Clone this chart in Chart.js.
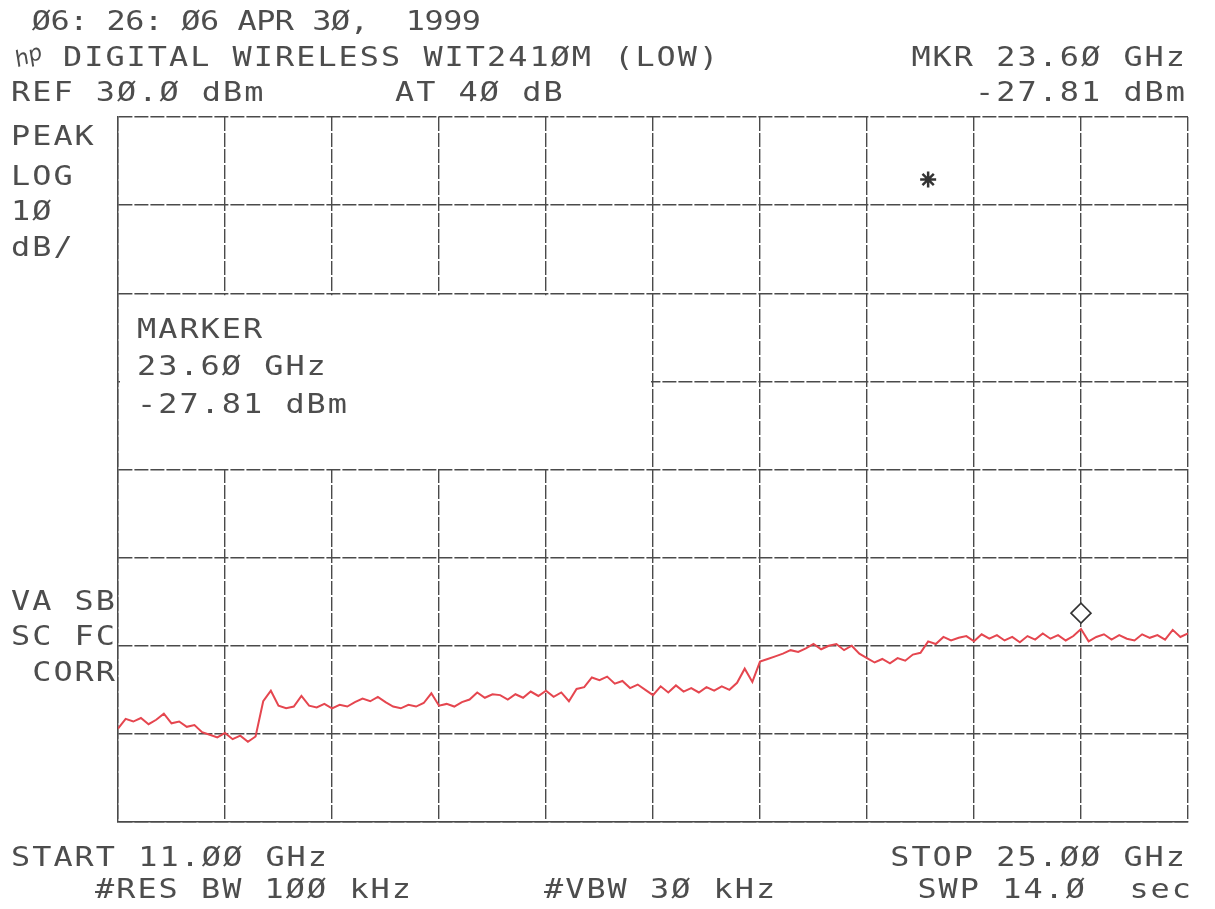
<!DOCTYPE html>
<html>
<head>
<meta charset="utf-8">
<script src="https://cdn.jsdelivr.net/npm/chart.js@4"></script>
<style>
  html, body { margin: 0; padding: 0; background: #fff; }
  #wrap { width: 1215px; height: 909px; }
</style>
</head>
<body>
<div id="wrap"><canvas id="chart" width="1215" height="909"></canvas></div>
<script>
// sweep 11.00 -> 25.00 GHz, one reading every 0.1 GHz (dBm)
const sweepStart = 11.0;
const sweepStep = 0.1;
const traceLevels = [
    -39.4, -38.3, -38.6, -38.2, -38.9, -38.4, -37.7, -38.8, -38.6, -39.2,
    -39.0, -39.8, -40.1, -40.4, -39.9, -40.6, -40.2, -40.9, -40.3, -36.3,
    -35.1, -36.8, -37.1, -36.9, -35.7, -36.8, -37.0, -36.6, -37.1, -36.7,
    -36.9, -36.4, -36.0, -36.3, -35.8, -36.4, -36.9, -37.1, -36.7, -36.9,
    -36.5, -35.4, -36.8, -36.6, -36.9, -36.4, -36.1, -35.3, -35.9, -35.5,
    -35.6, -36.1, -35.5, -35.9, -35.2, -35.7, -35.1, -35.8, -35.3, -36.3,
    -34.9, -34.7, -33.6, -33.9, -33.5, -34.3, -34.0, -34.8, -34.4, -35.0,
    -35.6, -34.6, -35.3, -34.5, -35.2, -34.8, -35.3, -34.7, -35.1, -34.6,
    -35.0, -34.2, -32.6, -34.1, -31.8, -31.5, -31.2, -30.9, -30.5, -30.7,
    -30.3, -29.8, -30.4, -30.0, -29.8, -30.5, -30.0, -30.9, -31.4, -31.9,
    -31.5, -32.0, -31.4, -31.7, -31.0, -30.8, -29.5, -29.8, -29.0, -29.4,
    -29.1, -28.9, -29.5, -28.7, -29.2, -28.8, -29.4, -29.0, -29.6, -28.9,
    -29.3, -28.6, -29.2, -28.8, -29.4, -28.9, -28.1, -29.5, -29.0, -28.7,
    -29.3, -28.8, -29.2, -29.4, -28.7, -29.1, -28.8, -29.3, -28.2, -29.0,
    -28.6
];

// grid divisions: 1.4 GHz / div, 10 dB / div from REF 30 dBm
const xGridTicks = [11, 12.4, 13.8, 15.2, 16.6, 18, 19.4, 20.8, 22.2, 23.6, 25];
const yGridTicks = [30, 20, 10, 0, -10, -20, -30, -40, -50];

// marker diamond and the '*' symbol
const markerPoint = [{ x: 23.6, y: -26.3 }];
const starPoint = [{ x: 21.6, y: 22.9 }];

// readout box covers 11..18 GHz, +10..-10 dBm
const boxFreq = [11, 18];
const boxLevel = [10, -10];

const INK = '#4d4d4d';
const PITCH = 21.2;

// plotter style: fixed pitch, slightly stretched glyphs
function drawMono(ctx, text, x, y, align, pitch) {
    const p = pitch || PITCH;
    let start = x;
    if (align === 'right') start = x - text.length * p;
    for (let i = 0; i < text.length; i++) {
        ctx.save();
        ctx.translate(start + (i + 0.5) * p, y);
        ctx.scale(1.18, 1);
        ctx.fillText(text[i], 0, 0);
        ctx.restore();
    }
}

const readoutPlugin = {
    id: 'readout',
    beforeDatasetsDraw(chart) {
        const ctx = chart.ctx;
        const xs = chart.scales.x, ys = chart.scales.y;
        const l = xs.getPixelForValue(boxFreq[0]), r = xs.getPixelForValue(boxFreq[1]);
        const t = ys.getPixelForValue(boxLevel[0]), b = ys.getPixelForValue(boxLevel[1]);
        ctx.save();
        ctx.fillStyle = '#fff';
        ctx.fillRect(l + 2, t + 2, r - l - 4, b - t - 4);
        ctx.restore();
    },
    afterDraw(chart) {
        const ctx = chart.ctx;
        ctx.save();
        ctx.fillStyle = INK;
        ctx.font = '27px "DejaVu Sans Mono"';
        ctx.textAlign = 'center';
        ctx.textBaseline = 'alphabetic';

        drawMono(ctx, 'Ø6: 26: Ø6 APR 3Ø,  1999', 32, 30, 'left', 18.7);
        drawMono(ctx, 'DIGITAL WIRELESS WIT241ØM (LOW)', 62, 66);
        drawMono(ctx, 'MKR 23.6Ø GHz', 1186, 66, 'right');
        drawMono(ctx, 'REF 3Ø.Ø dBm', 10, 101);
        drawMono(ctx, 'AT 4Ø dB', 394, 101);
        drawMono(ctx, '-27.81 dBm', 1186, 101, 'right');

        drawMono(ctx, 'PEAK', 10, 145);
        drawMono(ctx, 'LOG', 10, 185);
        drawMono(ctx, '1Ø', 10, 220);
        drawMono(ctx, 'dB/', 10, 256);

        drawMono(ctx, 'VA SB', 116, 610, 'right');
        drawMono(ctx, 'SC FC', 116, 645, 'right');
        drawMono(ctx, 'CORR', 116, 681, 'right');

        drawMono(ctx, 'MARKER', 136, 338);
        drawMono(ctx, '23.6Ø GHz', 136, 375);
        drawMono(ctx, '-27.81 dBm', 136, 413);

        drawMono(ctx, 'START 11.ØØ GHz', 10, 866);
        drawMono(ctx, 'STOP 25.ØØ GHz', 1186, 866, 'right');
        drawMono(ctx, '#RES BW 1ØØ kHz', 94, 898);
        drawMono(ctx, '#VBW 3Ø kHz', 543, 898);
        drawMono(ctx, 'SWP 14.Ø  sec', 1192, 898, 'right');

        // hp logo
        ctx.translate(28, 55);
        ctx.rotate(-0.35);
        ctx.font = 'italic 22px "DejaVu Sans"';
        ctx.fillText('hp', 0, 8);
        ctx.restore();
    }
};

const points = traceLevels.map((v, i) => ({ x: sweepStart + i * sweepStep, y: v }));

new Chart(document.getElementById('chart'), {
    type: 'line',
    data: {
        datasets: [{
            data: points,
            borderColor: '#e5464f',
            borderWidth: 2,
            pointRadius: 0,
            tension: 0,
            fill: false,
        }, {
            type: 'scatter',
            data: markerPoint,
            pointStyle: 'rectRot',
            pointRadius: 10,
            backgroundColor: '#fff',
            borderColor: '#333',
            borderWidth: 1.6,
        }, {
            type: 'scatter',
            data: starPoint,
            pointStyle: 'star',
            pointRadius: 8,
            borderColor: '#333',
            borderWidth: 2.5,
        }],
    },
    options: {
        responsive: false,
        animation: false,
        layout: { padding: { left: 118, top: 117, right: 27, bottom: 87 } },
        plugins: {
            legend: { display: false },
            tooltip: { enabled: false },
            title: { display: false },
        },
        scales: {
            x: {
                type: 'linear',
                min: 11,
                max: 25,
                afterBuildTicks: (axis) => { axis.ticks = xGridTicks.map(v => ({ value: v })); },
                ticks: { display: false },
                grid: { color: '#4a4a4a', lineWidth: 1.4, drawTicks: false },
                border: { color: '#4a4a4a', width: 1.4, dash: [14, 2] },
            },
            y: {
                min: -50,
                max: 30,
                afterBuildTicks: (axis) => { axis.ticks = yGridTicks.map(v => ({ value: v })); },
                ticks: { display: false },
                grid: { color: '#4a4a4a', lineWidth: 1.4, drawTicks: false },
                border: { color: '#4a4a4a', width: 1.4, dash: [14, 2] },
            },
        },
    },
    plugins: [readoutPlugin],
});
</script>
</body>
</html>
